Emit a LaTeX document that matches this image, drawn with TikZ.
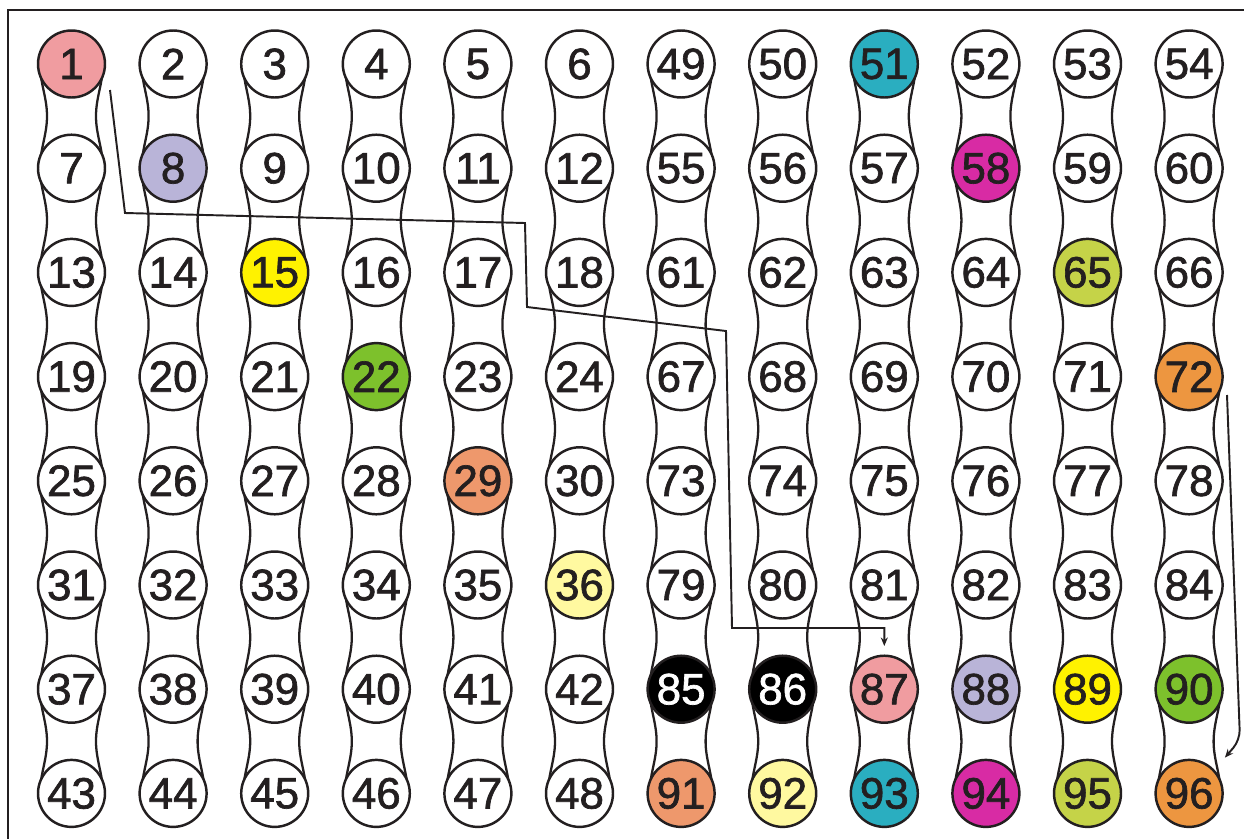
\documentclass[tikz,border=0pt]{standalone}
\usepackage{fontspec}
\setmainfont{Liberation Sans}
\newfontface\ballfont{Liberation Sans}[FakeBold=1.5]
\usetikzlibrary{arrows.meta,calc}
\definecolor{ink}{RGB}{35,31,32}
\definecolor{pinkc}{RGB}{240,156,160}
\definecolor{lavc}{RGB}{185,180,216}
\definecolor{yelc}{RGB}{255,242,0}
\definecolor{grnc}{RGB}{125,193,44}
\definecolor{salc}{RGB}{238,152,108}
\definecolor{ltyc}{RGB}{255,249,160}
\definecolor{tealc}{RGB}{42,174,192}
\definecolor{magc}{RGB}{216,43,164}
\definecolor{olvc}{RGB}{197,211,72}
\definecolor{orgc}{RGB}{237,150,64}

\begin{document}
\begin{tikzpicture}[
        x=0.02cm, y=-0.02cm,
        ball/.style={draw=ink,circle,fill=white,text=ink,line width=1.4pt,minimum size=1.34cm,inner sep=0pt,font=\ballfont\fontsize{25}{25}\selectfont},
        chain/.style={draw=ink,line width=1.3pt},
        arrow/.style={draw=ink,-{Stealth[length=1.7mm,width=1.4mm]},line width=1.1pt},
        hl1/.style={fill=pinkc}, hl8/.style={fill=lavc}, hl15/.style={fill=yelc},
        hl22/.style={fill=grnc}, hl29/.style={fill=salc}, hl36/.style={fill=ltyc},
        hl51/.style={fill=tealc}, hl58/.style={fill=magc}, hl65/.style={fill=olvc},
        hl72/.style={fill=orgc},
        hl85/.style={fill=black,text=white}, hl86/.style={fill=black,text=white},
        hl87/.style={fill=pinkc}, hl88/.style={fill=lavc}, hl89/.style={fill=yelc},
        hl90/.style={fill=grnc}, hl91/.style={fill=salc}, hl92/.style={fill=ltyc},
        hl93/.style={fill=tealc}, hl94/.style={fill=magc}, hl95/.style={fill=olvc},
        hl96/.style={fill=orgc}
    ]
        \useasboundingbox (0,0) rectangle (1244,839);

        % Frame
        \draw[ink,line width=1.4pt] (1244,10) -- (8,10) -- (8,839);

        % Chains
        \foreach \c in {0,...,11} {
            \pgfmathsetmacro{\cx}{71.5+101.6*\c}
            \draw[chain] plot[domain=64:793.4,samples=160,smooth,variable=\t]
                ({\cx-28-3.5*cos((\t-64)*3.4549)},\t);
            \draw[chain] plot[domain=64:793.4,samples=160,smooth,variable=\t]
                ({\cx+28+3.5*cos((\t-64)*3.4549)},\t);
        }

        % Balls
        \foreach \r in {0,...,7} {
            \foreach \c in {0,...,11} {
                \pgfmathtruncatemacro{\n}{\c<6 ? 6*\r+\c+1 : 48+6*\r+\c-5}
                \node[ball,hl\n/.try] (n\n) at ({71.5+101.6*\c},{64+104.2*\r}) {\n};
            }
        }

        % Route to 87
        \coordinate (p0) at (110,90);
        \coordinate (p1) at (125,213);
        \coordinate (p2) at (525,223);
        \coordinate (p3) at (527,307);
        \coordinate (p4) at (726,331);
        \coordinate (p5) at (732,628);
        \draw[arrow,shorten >=1.7mm] (p0) -- (p1) -- (p2) -- (p3) -- (p4) -- (p5) -- (p5 -| n87) -- (n87.north);

        % Route to 96
        \coordinate (q0) at (1227,395);
        \coordinate (q1) at (1240,740);
        \draw[arrow,rounded corners=0.2cm,shorten >=3.2mm] (q0) -- (q1) -- (n96.43);
    \end{tikzpicture}
\end{document}
